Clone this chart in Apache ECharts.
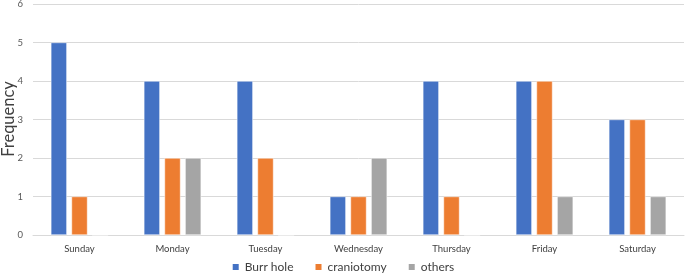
<!DOCTYPE html>
<html><head><meta charset="utf-8">
<script src="https://cdn.jsdelivr.net/npm/echarts@6/dist/echarts.min.js"></script>
<style>html,body{margin:0;padding:0;background:#fff}#c{width:685px;height:278px}</style>
</head><body><div id="c"></div>
<script>
const categories = ["Sunday","Monday","Tuesday","Wednesday","Thursday","Friday","Saturday"];
const burrHole = [5,4,4,1,4,4,3];
const craniotomy = [1,2,2,1,1,4,3];
const others = [0,2,0,2,0,1,1];
const seriesNames = ["Burr hole","craniotomy","others"];
const yTitle = "Frequency";
const colors = ["#4472C4","#ED7D31","#A5A5A5"];
const font = "Lato, 'Open Sans', sans-serif";
const chart = echarts.init(document.getElementById('c'));
const mk = (name, data, color) => ({
  name, type: 'bar', data, barWidth: 16, barGap: '29%',
  itemStyle: {color, borderColor: '#fff', borderWidth: 0.5},
  emphasis: {disabled: true}
});
chart.setOption({
  animation: false,
  textStyle: {fontFamily: font},
  grid: {left: 33, right: 1, top: 4, bottom: 43, containLabel: false, outerBoundsMode: 'none'},
  graphic: [{
    type: 'text', x: 9, y: 119, rotation: Math.PI / 2,
    style: {text: yTitle, fontSize: 16.5, fill: '#404040', fontFamily: font,
            align: 'center', verticalAlign: 'middle'}
  }],
  legend: {
    bottom: 0, left: 'center', itemWidth: 8, itemHeight: 8, itemGap: 20,
    icon: 'rect', textStyle: {fontSize: 12, color: '#404040', fontFamily: font},
    data: seriesNames
  },
  xAxis: {
    type: 'category', data: categories,
    axisLine: {lineStyle: {color: '#d9d9d9'}}, axisTick: {show: false},
    axisLabel: {fontSize: 9.5, color: '#404040', margin: 9, fontFamily: font}
  },
  yAxis: {
    type: 'value', min: 0, max: 6, interval: 1,
    axisLabel: {fontSize: 9.5, color: '#595959', margin: 10, fontFamily: font},
    splitLine: {lineStyle: {color: '#d9d9d9'}},
    axisLine: {show: false}, axisTick: {show: false}
  },
  series: [mk(seriesNames[0], burrHole, colors[0]), mk(seriesNames[1], craniotomy, colors[1]), mk(seriesNames[2], others, colors[2])]
});
</script></body></html>
